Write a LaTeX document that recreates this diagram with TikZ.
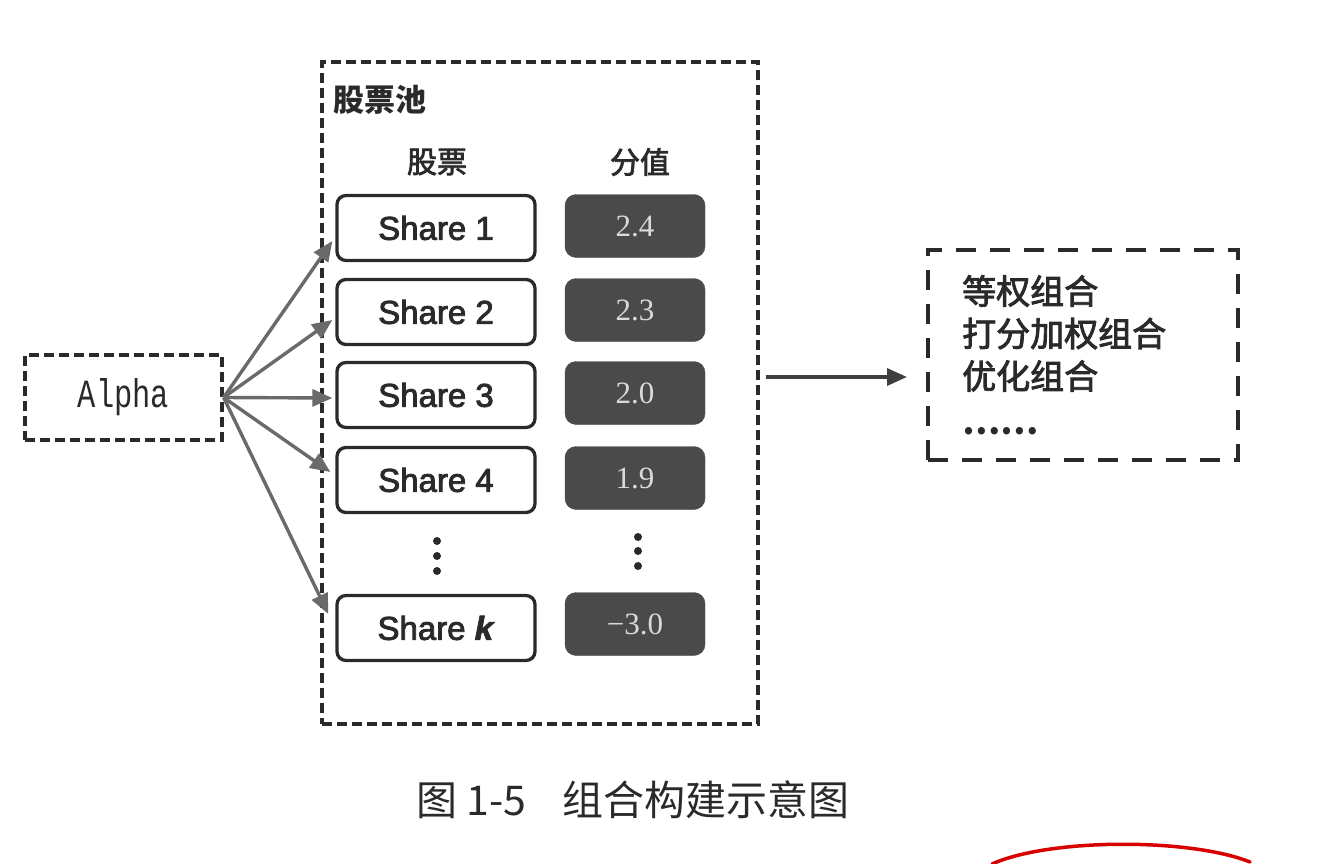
\documentclass[tikz,border=0pt]{standalone}
\usepackage{fontspec}
\setmainfont{Liberation Sans}
\newfontfamily\sharef[FakeBold=2.5]{Liberation Sans}
\newfontfamily\cjk{Noto Sans CJK SC}
\newfontfamily\cjkm[FakeBold=2.5]{Noto Sans CJK SC}
\newfontfamily\monof{Liberation Mono}
\newfontfamily\seriff{Liberation Serif}
\usetikzlibrary{arrows.meta}
\definecolor{inkc}{HTML}{2A2A2A}
\definecolor{arrowgray}{HTML}{6A6A6A}
\definecolor{scorefill}{HTML}{4A4A4A}
\definecolor{scoretext}{HTML}{DADADA}
\tikzset{
  dashbox/.style={draw=inkc, line width=3.2pt, dash pattern=on 10pt off 5pt},
  resbox/.style={draw=inkc, line width=3.2pt, dash pattern=on 20pt off 14pt},
  sharebox/.style={draw=inkc, line width=3.3pt, rounded corners=9pt, fill=white,
    minimum width=198pt, minimum height=65pt, inner sep=0pt,
    font=\sharef\fontsize{33}{36}\selectfont, text=inkc},
  scorebox/.style={fill=scorefill, draw=scorefill, rounded corners=11pt,
    minimum width=140pt, minimum height=63pt, inner sep=0pt,
    font=\seriff\fontsize{31}{34}\selectfont, text=scoretext},
  arr/.style={draw=arrowgray, line width=3.4pt, -{Triangle[length=20pt,width=17pt]}},
  vdot/.style={circle, fill=inkc, inner sep=0pt, minimum size=8pt},
  cjklabel/.style={font=\cjkm\fontsize{30}{34}\selectfont, text=inkc, inner sep=0pt},
}
\begin{document}
\begin{tikzpicture}[x=1pt,y=-1pt]
\useasboundingbox (0,0) rectangle (1320,864);
% Alpha box
\node[dashbox, minimum width=197pt, minimum height=85pt, inner sep=0pt] (alpha) at (123.5,397.5)
  {\monof\fontsize{32}{36}\selectfont\color{inkc}\scalebox{0.95}[1.25]{Alpha}};
% pool
\node[dashbox, minimum width=436pt, minimum height=662pt, inner sep=0pt] (pool) at (540,393) {};
\node[cjklabel, anchor=west, font=\cjk\bfseries\fontsize{31}{34}\selectfont] (pooltitle) at (333,100) {股票池};
\node[cjklabel] (hshare) at (437,162) {股票};
\node[cjklabel] (hscore) at (640,162) {分值};
% shares
\node[sharebox] (s1) at (436,228) {Share 1};
\node[sharebox] (s2) at (436,312) {Share 2};
\node[sharebox] (s3) at (436,395) {Share 3};
\node[sharebox] (s4) at (436,480) {Share 4};
\node[sharebox] (sk) at (436,628) {Share \textit{\textbf{k}}};
% scores
\node[scorebox] (v1) at (635,226) {2.4};
\node[scorebox] (v2) at (635,310) {2.3};
\node[scorebox] (v3) at (635,393) {2.0};
\node[scorebox] (v4) at (635,478) {1.9};
\node[scorebox] (vk) at (635,624) {−3.0};
% vertical dots
\node[vdot] (da1) at (437,541) {};
\node[vdot] (da2) at (437,556) {};
\node[vdot] (da3) at (437,571) {};
\node[vdot] (db1) at (638,537) {};
\node[vdot] (db2) at (638,551) {};
\node[vdot] (db3) at (638,566) {};
% arrows from Alpha
\draw[arr] (alpha.east) -- ([xshift=-3pt,yshift=-13pt]s1.west);
\draw[arr] (alpha.east) -- ([xshift=-3pt,yshift=-8pt]s2.west);
\draw[arr] (alpha.east) -- ([xshift=-3pt,yshift=-3pt]s3.west);
\draw[arr] (alpha.east) -- ([xshift=-5pt,yshift=8pt]s4.west);
\draw[arr] (alpha.east) -- ([xshift=-7pt,yshift=14pt]sk.west);
% results box
\node[resbox, minimum width=310pt, minimum height=210pt, inner sep=0pt] (res) at (1083,355) {};
\node[anchor=north west, align=left, inner sep=0pt, text=inkc,
  font=\cjkm\fontsize{34}{42.5}\selectfont] (restext) at (962,275)
  {等权组合\\打分加权组合\\优化组合\\\raisebox{-3pt}{\cjk\bfseries ……}};
\coordinate (rin) at (907,377);
\draw[arr, draw=inkc!90] ([xshift=6pt]pool.east |- rin) -- (rin);
% caption
\node[font=\cjk\fontsize{41}{46}\selectfont, text=inkc, inner sep=0pt] (caption) at (633,800)
  {图 1-5\hspace{0.9em}组合构建示意图};
% red pen mark
\draw[red!85!black, line width=3.5pt, line cap=round] (992,864) .. controls (1050,838) and (1190,838) .. (1250,862);
\end{tikzpicture}
\end{document}
